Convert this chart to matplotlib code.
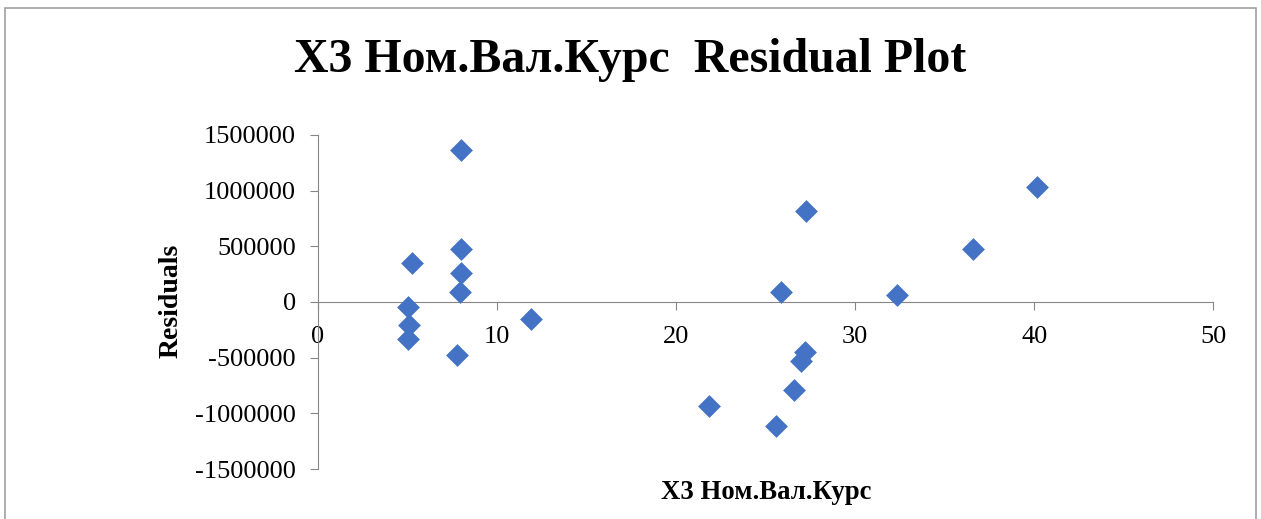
import numpy as np
import matplotlib
matplotlib.use("Agg")
import matplotlib.pyplot as plt
from matplotlib.patches import Rectangle

# X3 values (exchange rate) and regression residuals
x3_kurs = [7.96, 7.97, 5.25, 7.97, 7.93, 5.05, 5.08, 5.03, 7.77, 11.87,
           40.17, 27.26, 36.56, 25.83, 32.35, 27.19, 26.95, 26.58, 21.84, 25.55]
residuals = [1362000, 479000, 350000, 260000, 86000, -45000, -210000, -330000, -473000, -150000,
             1029000, 820000, 476000, 90000, 59000, -453000, -527000, -794000, -931000, -1111000]

x_ticks = [0, 10, 20, 30, 40, 50]
y_ticks = [-1500000, -1000000, -500000, 0, 500000, 1000000, 1500000]

title_txt = "X3 Ном.Вал.Курс  Residual Plot"
xlabel_txt = "X3 Ном.Вал.Курс"
ylabel_txt = "Residuals"

plt.rcParams['font.family'] = ['Liberation Serif', 'DejaVu Serif']
axis_gray = '#868686'

fig = plt.figure(figsize=(12.61, 5.19), dpi=100)
fig.patches.append(Rectangle((0.004, -0.1), 0.992, 1.085, transform=fig.transFigure,
                             fill=False, edgecolor='#a0a0a0', linewidth=1.2))

ax = fig.add_axes([0.2522, 0.0963, 0.7100, 0.6437])
ax.scatter(x3_kurs, residuals, marker='D', s=135, color='#4472C4', zorder=3, linewidths=0)

for s in ['top', 'right']:
    ax.spines[s].set_visible(False)
ax.spines['bottom'].set_position(('data', 0))
ax.spines['bottom'].set_color(axis_gray)
ax.spines['left'].set_color(axis_gray)

ax.set_xlim(0, 50)
ax.set_ylim(-1500000, 1500000)
ax.set_xticks(x_ticks)
ax.set_yticks(y_ticks)
ax.set_xticklabels([str(v) for v in x_ticks])
ax.set_yticklabels([str(v) for v in y_ticks])
ax.tick_params(axis='x', direction='out', length=6, color=axis_gray, pad=11, labelsize=19)
ax.tick_params(axis='y', direction='out', length=6, color=axis_gray, pad=10, labelsize=19)

fig.text(0.5, 0.885, title_txt, ha='center', va='center', fontsize=34.5, fontweight='bold')
fig.text(0.608, 0.052, xlabel_txt, ha='center', va='center', fontsize=19.3, fontweight='bold')
fig.text(0.136, 0.42, ylabel_txt, ha='center', va='center', rotation=90, fontsize=20, fontweight='bold')

fig.savefig("out.png", dpi=100)
